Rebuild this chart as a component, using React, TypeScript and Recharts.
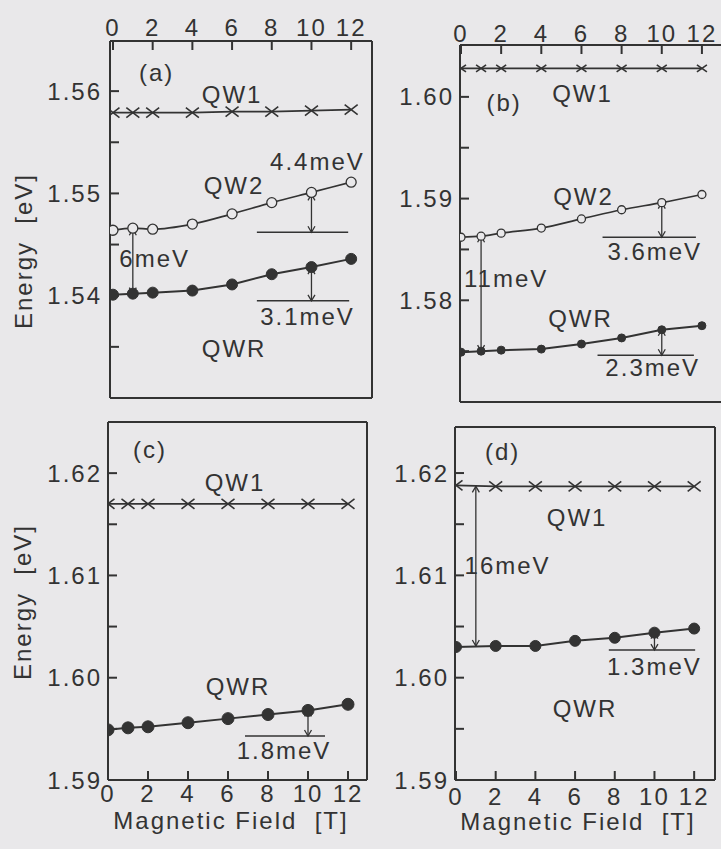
import React from "react";
import { LineChart, Line, XAxis, YAxis, ReferenceLine, ReferenceDot } from "recharts";

const INK = "#333333";
const PAPER = "#e9e8ea";
const FONT = '"Liberation Sans", Arial, Helvetica, sans-serif';
const FS = 24;

// magnetic field [T]
const fieldFull = [0, 1, 2, 4, 6, 8, 10, 12];
const fieldD = [0, 2, 4, 6, 8, 10, 12];
const fieldTicks = [0, 2, 4, 6, 8, 10, 12];

// energies [eV]
const qw1A = [1.5579, 1.5579, 1.5579, 1.5579, 1.558, 1.558, 1.5581, 1.5582];
const qw2A = [1.5464, 1.5466, 1.5465, 1.547, 1.548, 1.5491, 1.5501, 1.5511];
const qwrA = [1.5401, 1.5402, 1.5403, 1.5405, 1.5411, 1.5421, 1.5428, 1.5436];

const qw1B = [1.6028, 1.6028, 1.6028, 1.6028, 1.6028, 1.6028, 1.6028, 1.6028];
const qw2B = [1.5862, 1.5863, 1.5866, 1.5871, 1.588, 1.5889, 1.5896, 1.5904];
const qwrB = [1.5749, 1.575, 1.5751, 1.5752, 1.5757, 1.5763, 1.5771, 1.5775];

const qw1C = [1.617, 1.617, 1.617, 1.617, 1.617, 1.617, 1.617, 1.617];
const qwrC = [1.5949, 1.5951, 1.5952, 1.5956, 1.596, 1.5964, 1.5968, 1.5974];

const qw1D = [1.6188, 1.6187, 1.6187, 1.6187, 1.6187, 1.6187, 1.6187];
const qwrD = [1.603, 1.6031, 1.6031, 1.6036, 1.6039, 1.6044, 1.6048];

const yTicksA = [1.53, 1.535, 1.54, 1.545, 1.55, 1.555, 1.56];
const yTicksB = [1.57, 1.575, 1.58, 1.585, 1.59, 1.595, 1.6];
const yTicksCD = [1.59, 1.595, 1.6, 1.605, 1.61, 1.615, 1.62];

// annotations: text labels, splitting arrows and reference bars
const textA = [
  { x: 2.2, y: 1.5618, t: "(a)" },
  { x: 6.0, y: 1.5597, t: "QW1" },
  { x: 10.3, y: 1.5531, t: "4.4meV" },
  { x: 6.1, y: 1.5508, t: "QW2" },
  { x: 2.1, y: 1.5436, t: "6meV" },
  { x: 9.8, y: 1.538, t: "3.1meV" },
  { x: 6.1, y: 1.5348, t: "QWR" },
];
const arrowsA = [
  { x: 1, y1: 1.5465, y2: 1.5402 },
  { x: 10, y1: 1.5499, y2: 1.5462 },
  { x: 10, y1: 1.5427, y2: 1.5395 },
];
const barsA = [
  { x1: 7.25, x2: 11.85, y: 1.5462 },
  { x1: 7.25, x2: 11.9, y: 1.5395 },
];

const textB = [
  { x: 2.15, y: 1.5994, t: "(b)" },
  { x: 6.05, y: 1.6003, t: "QW1" },
  { x: 6.1, y: 1.5902, t: "QW2" },
  { x: 9.65, y: 1.5848, t: "3.6meV" },
  { x: 2.25, y: 1.5821, t: "11meV" },
  { x: 5.95, y: 1.5782, t: "QWR" },
  { x: 9.55, y: 1.5734, t: "2.3meV" },
];
const arrowsB = [
  { x: 1, y1: 1.5863, y2: 1.575 },
  { x: 10, y1: 1.5896, y2: 1.5862 },
  { x: 10, y1: 1.5771, y2: 1.5746 },
];
const barsB = [
  { x1: 7.05, x2: 11.7, y: 1.5862 },
  { x1: 6.8, x2: 11.6, y: 1.5746 },
];

const textC = [
  { x: 2.1, y: 1.6223, t: "(c)" },
  { x: 6.35, y: 1.6191, t: "QW1" },
  { x: 6.5, y: 1.5991, t: "QWR" },
  { x: 8.8, y: 1.5929, t: "1.8meV" },
];
const arrowsC = [{ x: 10, y1: 1.5968, y2: 1.5943 }];
const barsC = [{ x1: 6.85, x2: 10.85, y: 1.5943 }];

const textD = [
  { x: 2.35, y: 1.6221, t: "(d)" },
  { x: 6.1, y: 1.6157, t: "QW1" },
  { x: 2.6, y: 1.611, t: "16meV" },
  { x: 10.0, y: 1.6011, t: "1.3meV" },
  { x: 6.5, y: 1.597, t: "QWR" },
];
const arrowsD = [
  { x: 1, y1: 1.6187, y2: 1.6031 },
  { x: 10, y1: 1.6044, y2: 1.6027 },
];
const barsD = [{ x1: 7.7, x2: 12.05, y: 1.6027 }];

const rowsA = fieldFull.map((f, i) => ({ field: f, qw1: qw1A[i], qw2: qw2A[i], qwr: qwrA[i] }));
const rowsB = fieldFull.map((f, i) => ({ field: f, qw1: qw1B[i], qw2: qw2B[i], qwr: qwrB[i] }));
const rowsC = fieldFull.map((f, i) => ({ field: f, qw1: qw1C[i], qwr: qwrC[i] }));
const rowsD = fieldD.map((f, i) => ({ field: f, qw1: qw1D[i], qwr: qwrD[i] }));

const crossDot = (w: number, h: number) => (props: any) => {
  const { cx, cy, index } = props;
  return (
    <path
      key={`x${index}`}
      d={`M${cx - w},${cy - h}L${cx + w},${cy + h}M${cx - w},${cy + h}L${cx + w},${cy - h}`}
      stroke={INK}
      strokeWidth={1.6}
      fill="none"
    />
  );
};

function DoubleArrow(props: any) {
  const { x1, y1, x2, y2 } = props;
  const top = Math.min(y1, y2);
  const bot = Math.max(y1, y2);
  const h = Math.min(6, (bot - top) / 2.5);
  const w = 3.5;
  return (
    <g>
      <line x1={x1} x2={x2} y1={top} y2={bot} stroke={INK} strokeWidth={1.3} />
      <path
        d={`M${x1 - w},${top + h}L${x1},${top}L${x1 + w},${top + h}M${x1 - w},${bot - h}L${x1},${bot}L${x1 + w},${bot - h}`}
        stroke={INK}
        strokeWidth={1.3}
        fill="none"
      />
    </g>
  );
}

const fmtY = (v: number) => (Math.round(v * 1000) % 10 === 0 ? v.toFixed(2) : "");

interface PanelProps {
  left: number;
  top: number;
  width: number;
  height: number;
  plot: { left: number; top: number; right: number; bottom: number };
  xDomain: [number, number];
  yDomain: [number, number];
  yTicks: number[];
  rows: any[];
  hasQw2: boolean;
  crossW: number;
  crossH: number;
  qw2R: number;
  qwrR: number;
  texts: { x: number; y: number; t: string }[];
  arrows: { x: number; y1: number; y2: number }[];
  bars: { x1: number; x2: number; y: number }[];
  labelsTop: boolean;
  xMargin: number;
  yMargin: number;
  yTitle?: { x: number; y: number };
  xTitle?: { x: number; y: number };
}

function Panel(p: PanelProps) {
  const yW = p.plot.left - p.left;
  const topH = p.plot.top - p.top;
  const rightW = p.left + p.width - p.plot.right;
  const bottomH = p.top + p.height - p.plot.bottom;
  const line = { stroke: INK, strokeWidth: 2 };
  const tickText = { fill: INK, fontSize: FS, fontFamily: FONT };
  return (
    <div style={{ position: "absolute", left: p.left, top: p.top }}>
      <LineChart width={p.width} height={p.height} data={p.rows} margin={{ top: 0, right: 0, bottom: 0, left: 0 }}>
        <XAxis
          xAxisId="b"
          dataKey="field"
          type="number"
          orientation="bottom"
          domain={p.xDomain}
          allowDataOverflow
          ticks={fieldTicks}
          height={bottomH}
          tickSize={-9}
          tickMargin={p.labelsTop ? 0 : p.xMargin}
          tick={p.labelsTop ? false : tickText}
          axisLine={line}
          tickLine={line}
          label={
            p.xTitle
              ? {
                  content: () => (
                    <text
                      x={p.xTitle!.x}
                      y={p.xTitle!.y}
                      textAnchor="middle"
                      fill={INK}
                      fontSize={FS}
                      fontFamily={FONT}
                      style={{ whiteSpace: "pre" }}
                    >
                      {"Magnetic Field  [T]"}
                    </text>
                  ),
                }
              : undefined
          }
        />
        <XAxis
          xAxisId="t"
          dataKey="field"
          type="number"
          orientation="top"
          domain={p.xDomain}
          allowDataOverflow
          ticks={fieldTicks}
          height={topH}
          tickSize={-9}
          tickMargin={p.labelsTop ? p.xMargin : 0}
          tick={p.labelsTop ? tickText : false}
          axisLine={line}
          tickLine={line}
        />
        <YAxis
          yAxisId="l"
          type="number"
          domain={p.yDomain}
          allowDataOverflow
          ticks={p.yTicks}
          tickFormatter={fmtY}
          width={yW}
          tickSize={-9}
          tickMargin={p.yMargin}
          tick={tickText}
          axisLine={line}
          tickLine={line}
          label={
            p.yTitle
              ? {
                  content: () => (
                    <text
                      x={p.yTitle!.x}
                      y={p.yTitle!.y}
                      transform={`rotate(-90 ${p.yTitle!.x} ${p.yTitle!.y})`}
                      textAnchor="middle"
                      dominantBaseline="central"
                      fill={INK}
                      fontSize={FS}
                      fontFamily={FONT}
                      style={{ whiteSpace: "pre" }}
                    >
                      {"Energy  [eV]"}
                    </text>
                  ),
                }
              : undefined
          }
        />
        <YAxis
          yAxisId="r"
          type="number"
          orientation="right"
          domain={p.yDomain}
          allowDataOverflow
          width={rightW}
          tick={false}
          tickLine={false}
          axisLine={line}
        />
        {p.bars.map((b, i) => (
          <ReferenceLine
            key={`bar${i}`}
            xAxisId="b"
            yAxisId="l"
            segment={[
              { x: b.x1, y: b.y },
              { x: b.x2, y: b.y },
            ]}
            stroke={INK}
            strokeWidth={1.4}
            ifOverflow="visible"
          />
        ))}
        {p.arrows.map((a, i) => (
          <ReferenceLine
            key={`arr${i}`}
            xAxisId="b"
            yAxisId="l"
            segment={[
              { x: a.x, y: a.y1 },
              { x: a.x, y: a.y2 },
            ]}
            shape={DoubleArrow}
            ifOverflow="visible"
          />
        ))}
        <Line
          xAxisId="b"
          yAxisId="l"
          type="linear"
          dataKey="qw1"
          stroke={INK}
          strokeWidth={1.8}
          dot={crossDot(p.crossW, p.crossH)}
          isAnimationActive={false}
        />
        {p.hasQw2 && (
          <Line
            xAxisId="b"
            yAxisId="l"
            type="monotone"
            dataKey="qw2"
            stroke={INK}
            strokeWidth={1.7}
            dot={{ r: p.qw2R, fill: PAPER, stroke: INK, strokeWidth: 1.3 }}
            isAnimationActive={false}
          />
        )}
        <Line
          xAxisId="b"
          yAxisId="l"
          type="linear"
          dataKey="qwr"
          stroke={INK}
          strokeWidth={2}
          dot={{ r: p.qwrR, fill: INK, stroke: INK, strokeWidth: 1 }}
          isAnimationActive={false}
        />
        {p.texts.map((t, i) => (
          <ReferenceDot
            key={`t${i}`}
            xAxisId="b"
            yAxisId="l"
            x={t.x}
            y={t.y}
            r={0}
            fill="none"
            stroke="none"
            ifOverflow="visible"
            label={{ value: t.t, position: "center", fill: INK, fontSize: FS, fontFamily: FONT }}
          />
        ))}
      </LineChart>
    </div>
  );
}

export default function App() {
  return (
    <div
      style={{
        position: "fixed",
        left: 0,
        top: 0,
        width: 721,
        height: 849,
        overflow: "hidden",
        background: PAPER,
        fontFamily: FONT,
        letterSpacing: "2px",
      }}
    >
      <Panel
        left={0}
        top={0}
        width={380}
        height={410}
        plot={{ left: 110, top: 41, right: 372, bottom: 398 }}
        xDomain={[-0.15, 13.05]}
        yDomain={[1.53, 1.5649]}
        yTicks={yTicksA}
        rows={rowsA}
        hasQw2
        crossW={6.5}
        crossH={5}
        qw2R={5}
        qwrR={5.5}
        texts={textA}
        arrows={arrowsA}
        bars={barsA}
        labelsTop
        xMargin={14}
        yMargin={17}
        yTitle={{ x: 23, y: 251 }}
      />
      <Panel
        left={380}
        top={0}
        width={350}
        height={410}
        plot={{ left: 460, top: 45, right: 723, bottom: 402 }}
        xDomain={[-0.05, 13.05]}
        yDomain={[1.57, 1.6051]}
        yTicks={yTicksB}
        rows={rowsB}
        hasQw2
        crossW={5}
        crossH={3.5}
        qw2R={4}
        qwrR={4}
        texts={textB}
        arrows={arrowsB}
        bars={barsB}
        labelsTop
        xMargin={12}
        yMargin={15}
      />
      <Panel
        left={0}
        top={410}
        width={380}
        height={439}
        plot={{ left: 108, top: 422, right: 367, bottom: 780 }}
        xDomain={[0, 12.95]}
        yDomain={[1.59, 1.625]}
        yTicks={yTicksCD}
        rows={rowsC}
        hasQw2={false}
        crossW={6.5}
        crossH={5}
        qw2R={5}
        qwrR={6}
        texts={textC}
        arrows={arrowsC}
        bars={barsC}
        labelsTop={false}
        xMargin={14}
        yMargin={15}
        yTitle={{ x: 22, y: 192 }}
        xTitle={{ x: 231, y: 419 }}
      />
      <Panel
        left={380}
        top={410}
        width={341}
        height={439}
        plot={{ left: 455, top: 427, right: 715, bottom: 780 }}
        xDomain={[-0.05, 13.05]}
        yDomain={[1.59, 1.6245]}
        yTicks={yTicksCD}
        rows={rowsD}
        hasQw2={false}
        crossW={6.5}
        crossH={5}
        qw2R={5}
        qwrR={5.5}
        texts={textD}
        arrows={arrowsD}
        bars={barsD}
        labelsTop={false}
        xMargin={17}
        yMargin={15}
        xTitle={{ x: 198, y: 420 }}
      />
    </div>
  );
}
